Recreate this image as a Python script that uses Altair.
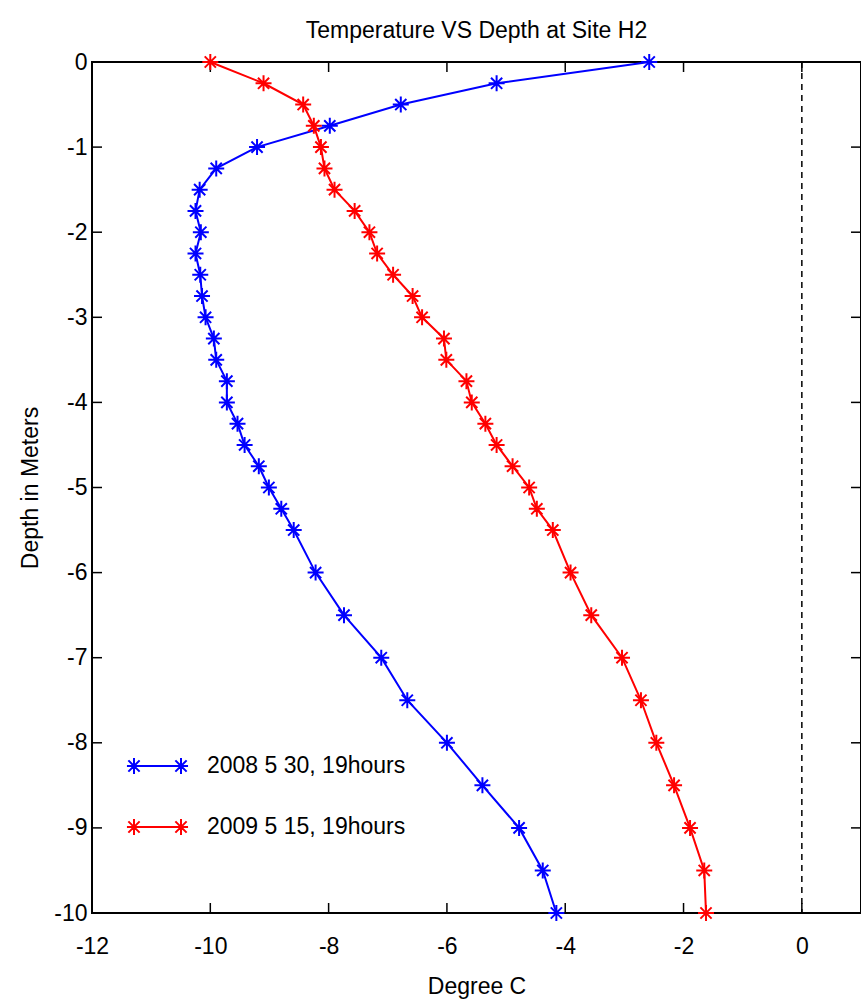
import altair as alt
import pandas as pd

# ---- data ----
series_names = ["2008 5 30, 19hours", "2009 5 15, 19hours"]
series_colors = ["#0000FF", "#FF0000"]

depths = [0, -0.25, -0.5, -0.75, -1, -1.25, -1.5, -1.75, -2, -2.25, -2.5, -2.75,
          -3, -3.25, -3.5, -3.75, -4, -4.25, -4.5, -4.75, -5, -5.25, -5.5,
          -6, -6.5, -7, -7.5, -8, -8.5, -9, -9.5, -10]

temp_2008 = [-2.58, -5.16, -6.78, -7.98, -9.21, -9.90, -10.18, -10.25, -10.16, -10.25,
             -10.17, -10.14, -10.08, -9.94, -9.90, -9.72, -9.72, -9.54, -9.42, -9.18,
             -9.01, -8.80, -8.59, -8.22, -7.74, -7.11, -6.67, -6.00, -5.40, -4.78,
             -4.38, -4.15]

temp_2009 = [-10.00, -9.10, -8.43, -8.25, -8.13, -8.07, -7.90, -7.56, -7.31, -7.18,
             -6.91, -6.58, -6.42, -6.05, -6.01, -5.67, -5.58, -5.35, -5.16, -4.89,
             -4.61, -4.48, -4.21, -3.91, -3.56, -3.04, -2.72, -2.46, -2.16, -1.89,
             -1.65, -1.62]

x_ticks = [-12, -10, -8, -6, -4, -2, 0]
y_ticks = [0, -1, -2, -3, -4, -5, -6, -7, -8, -9, -10]
zero_line = [0]

title_text = "Temperature VS Depth at Site H2"
x_title = "Degree C"
y_title = "Depth in Meters"

# ---- layout ----
W, H = 769, 851
FONT = "Liberation Sans, Arial, sans-serif"
FS = 23
TICK = 10

rows = []
for name, temps in zip(series_names, [temp_2008, temp_2009]):
    for i, (t, d) in enumerate(zip(temps, depths)):
        rows.append({"series": name, "temp": t, "depth": d, "i": i})
df = pd.DataFrame(rows)

xscale = alt.Scale(domain=[-12, 1], nice=False, zero=False)
yscale = alt.Scale(domain=[-10, 0], nice=False, zero=False)

star = "M0,-1L0,1M-1,0L1,0M-0.7,-0.7L0.7,0.7M-0.7,0.7L0.7,-0.7"
legend_sym = ("M-1,0L1,0"
              "M-1,-0.34L-1,0.34M-1.3,0L-0.7,0M-1.24,-0.24L-0.76,0.24M-1.24,0.24L-0.76,-0.24"
              "M1,-0.34L1,0.34M0.7,0L1.3,0M0.76,-0.24L1.24,0.24M0.76,0.24L1.24,-0.24")

stroke_enc = alt.Stroke(
    "series:N",
    scale=alt.Scale(domain=series_names, range=series_colors),
    legend=alt.Legend(
        title=None, orient="none", legendX=41, legendY=679.5,
        symbolType=legend_sym, symbolSize=2209, symbolStrokeWidth=2,
        symbolFillColor="transparent", symbolOpacity=1,
        labelFont=FONT, labelFontSize=FS, labelColor="black", labelOffset=25,
        rowPadding=24, padding=0, labelLimit=400,
    ),
)

x_enc = alt.X(
    "temp:Q", scale=xscale,
    axis=alt.Axis(
        values=x_ticks, title=x_title, ticks=False, tickSize=0, domain=False, grid=False,
        labelFont=FONT, labelFontSize=FS, labelColor="black", labelPadding=40,
        labelBaseline="alphabetic", labelFlush=False, labelOverlap=False,
        labelExpr="'' + datum.value",
        titleFont=FONT, titleFontSize=FS, titleFontWeight="normal", titleColor="black",
        titleY=80, titleBaseline="alphabetic",
    ),
)
y_enc = alt.Y(
    "depth:Q", scale=yscale,
    axis=alt.Axis(
        values=y_ticks, title=y_title, ticks=False, tickSize=0, domain=False, grid=False,
        labelFont=FONT, labelFontSize=FS, labelColor="black", labelPadding=5,
        labelFlush=False, labelOverlap=False, labelExpr="'' + datum.value",
        titleFont=FONT, titleFontSize=FS, titleFontWeight="normal", titleColor="black",
        titleX=-62, titleY=H / 2, titleAngle=-90, titleAlign="center",
        titleBaseline="middle",
    ),
)

base = alt.Chart(df)
lines = base.mark_line(strokeWidth=2, opacity=1).encode(
    x=x_enc, y=y_enc, stroke=stroke_enc, order="i:Q"
)
points = base.mark_point(shape=star, size=256, filled=False, strokeWidth=2, opacity=1).encode(
    x=alt.X("temp:Q", scale=xscale), y=alt.Y("depth:Q", scale=yscale), stroke=stroke_enc
)

zero_df = pd.DataFrame({"x": zero_line})
zero_rule = alt.Chart(zero_df).mark_rule(
    color="black", strokeWidth=1.5, strokeDash=[6, 5]
).encode(x=alt.X("x:Q", scale=xscale))

xt = pd.DataFrame({"v": x_ticks})
yt = pd.DataFrame({"v": y_ticks})
tick_style = dict(color="black", strokeWidth=1.5)
bottom_ticks = alt.Chart(xt).mark_rule(**tick_style).encode(
    x=alt.X("v:Q", scale=xscale), y=alt.value(H), y2=alt.value(H - TICK))
top_ticks = alt.Chart(xt).mark_rule(**tick_style).encode(
    x=alt.X("v:Q", scale=xscale), y=alt.value(0), y2=alt.value(TICK))
left_ticks = alt.Chart(yt).mark_rule(**tick_style).encode(
    y=alt.Y("v:Q", scale=yscale), x=alt.value(0), x2=alt.value(TICK))
right_ticks = alt.Chart(yt).mark_rule(**tick_style).encode(
    y=alt.Y("v:Q", scale=yscale), x=alt.value(W), x2=alt.value(W - TICK))

chart = alt.layer(
    zero_rule, bottom_ticks, top_ticks, left_ticks, right_ticks, lines, points
).properties(
    width=W, height=H,
    title=alt.TitleParams(
        text=title_text, font=FONT, fontSize=FS, fontWeight="normal", color="black",
        anchor="middle", baseline="alphabetic", offset=12, dy=23,
    ),
    autosize=alt.AutoSizeParams(type="none"),
    padding={"left": 92, "top": 62, "right": 0, "bottom": 92},
    background="white",
).configure_view(stroke="black", strokeWidth=2)

chart.save("out.html", embed_options={"renderer": "svg", "actions": False})
